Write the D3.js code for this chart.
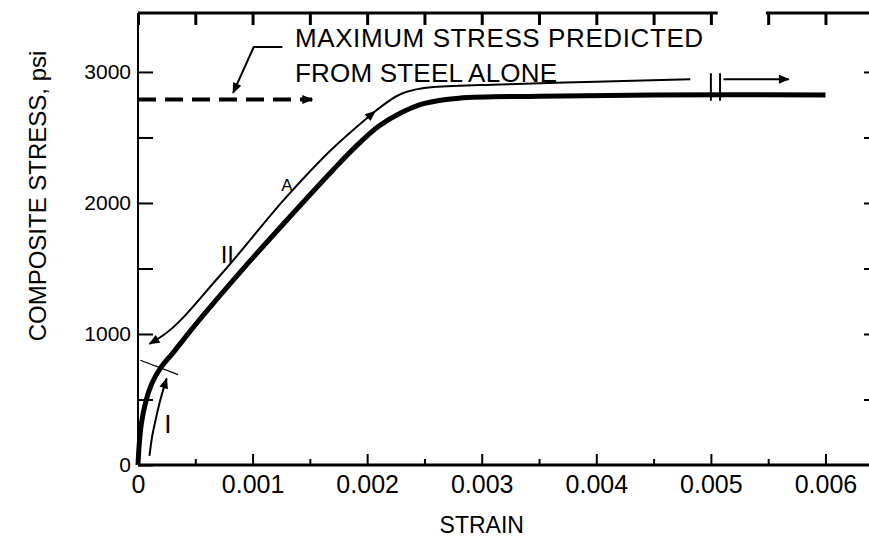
<!DOCTYPE html>
<html>
<head>
<meta charset="utf-8">
<script src="https://cdn.jsdelivr.net/npm/d3@7"></script>
<style>
  body { margin: 0; background: #fff; }
  svg { display: block; }
  text { font-family: "Liberation Sans", Arial, sans-serif; fill: #000; }
</style>
</head>
<body>
<svg id="chart" width="869" height="539"></svg>
<script>
// Data
const strainTicks = [0, 0.001, 0.002, 0.003, 0.004, 0.005, 0.006];
const strainLabels = ['0', '0.001', '0.002', '0.003', '0.004', '0.005', '0.006'];
const strainMinor = [0.0005, 0.0015, 0.0025, 0.0035, 0.0045, 0.0055];
const stressTicks = [0, 1000, 2000, 3000];
const stressMinor = [500, 1500, 2500];

// main composite curve (thick)
const compStrain = [0, 0.00001, 0.00003, 0.00007, 0.00012, 0.0002, 0.0003, 0.0005, 0.0009, 0.0013, 0.0017, 0.0019, 0.0021, 0.0023, 0.0025, 0.0028, 0.0035, 0.0045, 0.006];
const compStress = [0, 150, 320, 490, 620, 745, 850, 1070, 1480, 1870, 2250, 2430, 2585, 2690, 2760, 2800, 2815, 2825, 2825];

// loading path I (thin, arrow up)
const pathIStrain = [0.0001, 0.00012, 0.00015, 0.00019, 0.00025];
const pathIStress = [70, 200, 330, 480, 660];

// loading path II (thin, above the main curve)
const pathIIStrain = [0.0001, 0.00022, 0.00072, 0.0013, 0.00168, 0.00207];
const pathIIStress = [925, 990, 1450, 2050, 2400, 2700];
const pathIIbStrain = [0.00207, 0.00229, 0.00258, 0.00316, 0.0040, 0.00482];
const pathIIbStress = [2700, 2830, 2885, 2905, 2925, 2945];
const pathIIcStrain = [0.00511, 0.00568];
const pathIIcStress = [2945, 2945];

// steel-alone maximum
const steelMax = 2790;
const steelStrainEnd = 0.00152;

const svg = d3.select('#chart');
const margin = { top: 13, right: 0, bottom: 74, left: 138 };
const width = 869 - margin.left - margin.right;
const height = 539 - margin.top - margin.bottom;

const x = d3.scaleLinear().domain([0, 0.00638]).range([margin.left, margin.left + width]);
const y = d3.scaleLinear().domain([0, 3450]).range([margin.top + height, margin.top]);

// arrow marker
const defs = svg.append('defs');
defs.append('marker')
    .attr('id', 'arrow')
    .attr('viewBox', '0 0 12 10')
    .attr('refX', 11)
    .attr('refY', 5)
    .attr('markerWidth', 14)
    .attr('markerHeight', 9)
    .attr('markerUnits', 'userSpaceOnUse')
    .attr('orient', 'auto-start-reverse')
    .append('path')
    .attr('d', 'M0,0 L12,5 L0,10 z')
    .attr('fill', '#000');

// Axes
svg.append('g')
    .attr('transform', `translate(0,${y(0)})`)
    .call(d3.axisBottom(x).tickValues(strainTicks).tickSize(-11).tickPadding(10)
        .tickFormat((d, i) => strainLabels[i]))
    .call(g => g.select('.domain').remove())
    .call(g => g.selectAll('line').attr('stroke-width', 2))
    .call(g => g.selectAll('text').attr('font-size', 25).attr('font-family', '"Liberation Sans", Arial'));

svg.append('g')
    .attr('transform', `translate(0,${y(0)})`)
    .call(d3.axisBottom(x).tickValues(strainMinor).tickSize(-6).tickFormat(''))
    .call(g => g.select('.domain').remove())
    .call(g => g.selectAll('line').attr('stroke-width', 2));

svg.append('g')
    .attr('transform', `translate(${x(0)},0)`)
    .call(d3.axisLeft(y).tickValues(stressTicks).tickSize(-15).tickPadding(7).tickFormat(d3.format('d')))
    .call(g => g.select('.domain').remove())
    .call(g => g.selectAll('line').attr('stroke-width', 2))
    .call(g => g.selectAll('text').attr('font-size', 21).attr('font-family', '"Liberation Sans", Arial'));

svg.append('g')
    .attr('transform', `translate(${x(0)},0)`)
    .call(d3.axisLeft(y).tickValues(stressMinor).tickSize(-15).tickFormat(''))
    .call(g => g.select('.domain').remove())
    .call(g => g.selectAll('line').attr('stroke-width', 2));

// top ticks
svg.append('g')
    .attr('transform', `translate(0,${margin.top})`)
    .call(d3.axisTop(x).tickValues(strainTicks.concat(strainMinor)).tickSize(-12).tickFormat(''))
    .call(g => g.select('.domain').remove())
    .call(g => g.selectAll('line').attr('stroke-width', 3));

// right ticks (no line)
svg.append('g')
    .attr('transform', `translate(${margin.left + width},0)`)
    .call(d3.axisRight(y).tickValues(stressTicks.concat(stressMinor).filter(d => d > 0)).tickSize(-5).tickFormat(''))
    .call(g => g.select('.domain').remove())
    .call(g => g.selectAll('line').attr('stroke-width', 2));

// frame lines
svg.append('line')
    .attr('x1', x(0)).attr('x2', margin.left + width)
    .attr('y1', y(0)).attr('y2', y(0))
    .attr('stroke', '#000').attr('stroke-width', 3);
svg.append('line')
    .attr('x1', x(0)).attr('x2', x(0))
    .attr('y1', y(0)).attr('y2', margin.top)
    .attr('stroke', '#000').attr('stroke-width', 2);
// top border, broken in the scan near 0.0051-0.0055
svg.append('line')
    .attr('x1', x(0)).attr('x2', x(0.00506))
    .attr('y1', margin.top).attr('y2', margin.top)
    .attr('stroke', '#000').attr('stroke-width', 3);
svg.append('line')
    .attr('x1', x(0.00548)).attr('x2', margin.left + width)
    .attr('y1', margin.top).attr('y2', margin.top)
    .attr('stroke', '#000').attr('stroke-width', 3);

// Curves
const line = d3.line()
    .x(d => x(d[0]))
    .y(d => y(d[1]))
    .curve(d3.curveMonotoneX);

svg.append('path')
    .datum(d3.zip(compStrain, compStress))
    .attr('d', d3.line().x(d => x(d[0])).y(d => y(d[1])).curve(d3.curveCatmullRom.alpha(0.5)))
    .attr('fill', 'none')
    .attr('stroke', '#000')
    .attr('stroke-width', 5);

svg.append('path')
    .datum(d3.zip(pathIStrain, pathIStress))
    .attr('d', line)
    .attr('fill', 'none')
    .attr('stroke', '#000')
    .attr('stroke-width', 2)
    .attr('marker-end', 'url(#arrow)');

svg.append('path')
    .datum(d3.zip(pathIIStrain, pathIIStress))
    .attr('d', line)
    .attr('fill', 'none')
    .attr('stroke', '#000')
    .attr('stroke-width', 2)
    .attr('marker-start', 'url(#arrow)')
    .attr('marker-end', 'url(#arrow)');

svg.append('path')
    .datum(d3.zip(pathIIbStrain, pathIIbStress))
    .attr('d', line)
    .attr('fill', 'none')
    .attr('stroke', '#000')
    .attr('stroke-width', 2);

svg.append('path')
    .datum(d3.zip(pathIIcStrain, pathIIcStress))
    .attr('d', line)
    .attr('fill', 'none')
    .attr('stroke', '#000')
    .attr('stroke-width', 2)
    .attr('marker-end', 'url(#arrow)');

// break marks "||"
[0.00500, 0.00508].forEach(s => {
    svg.append('line')
        .attr('x1', x(s)).attr('x2', x(s))
        .attr('y1', y(2780)).attr('y2', y(2990))
        .attr('stroke', '#000').attr('stroke-width', 2);
});

// small cross mark near the knee of path I
svg.append('line')
    .attr('x1', x(0.00002)).attr('y1', y(800))
    .attr('x2', x(0.00035)).attr('y2', y(690))
    .attr('stroke', '#000').attr('stroke-width', 1.2);

// steel alone dashed line
svg.append('line')
    .attr('x1', x(0)).attr('x2', x(steelStrainEnd))
    .attr('y1', y(steelMax)).attr('y2', y(steelMax))
    .attr('stroke', '#000')
    .attr('stroke-width', 4)
    .attr('stroke-dasharray', '18,9')
    .attr('marker-end', 'url(#arrow)');

// annotation leader
svg.append('path')
    .datum([[0.00126, 3190], [0.00101, 3190], [0.00083, 2840]])
    .attr('d', d3.line().x(d => x(d[0])).y(d => y(d[1])))
    .attr('fill', 'none')
    .attr('stroke', '#000')
    .attr('stroke-width', 2)
    .attr('marker-end', 'url(#arrow)');

svg.append('text')
    .attr('x', x(0.00137)).attr('y', y(3190))
    .attr('font-size', 26)
    .attr('letter-spacing', 0.6)
    .text('MAXIMUM STRESS PREDICTED');
svg.append('text')
    .attr('x', x(0.00137)).attr('y', y(2922))
    .attr('font-size', 26)
    .attr('letter-spacing', 0.2)
    .text('FROM STEEL ALONE');

// curve labels
svg.append('text')
    .attr('x', x(0.00026)).attr('y', y(245))
    .attr('text-anchor', 'middle')
    .attr('font-size', 26)
    .text('I');
svg.append('text')
    .attr('x', x(0.00078)).attr('y', y(1540))
    .attr('text-anchor', 'middle')
    .attr('font-size', 24)
    .text('II');
svg.append('text')
    .attr('x', x(0.00130)).attr('y', y(2090))
    .attr('text-anchor', 'middle')
    .attr('font-size', 17)
    .text('A');

// Axis labels
svg.append('text')
    .attr('x', x(0.003))
    .attr('y', 533)
    .attr('text-anchor', 'middle')
    .attr('font-size', 23)
    .text('STRAIN');

svg.append('text')
    .attr('transform', 'rotate(-90)')
    .attr('x', -196)
    .attr('y', 46)
    .attr('text-anchor', 'middle')
    .attr('font-size', 24)
    .text('COMPOSITE STRESS, psi');
</script>
</body>
</html>
